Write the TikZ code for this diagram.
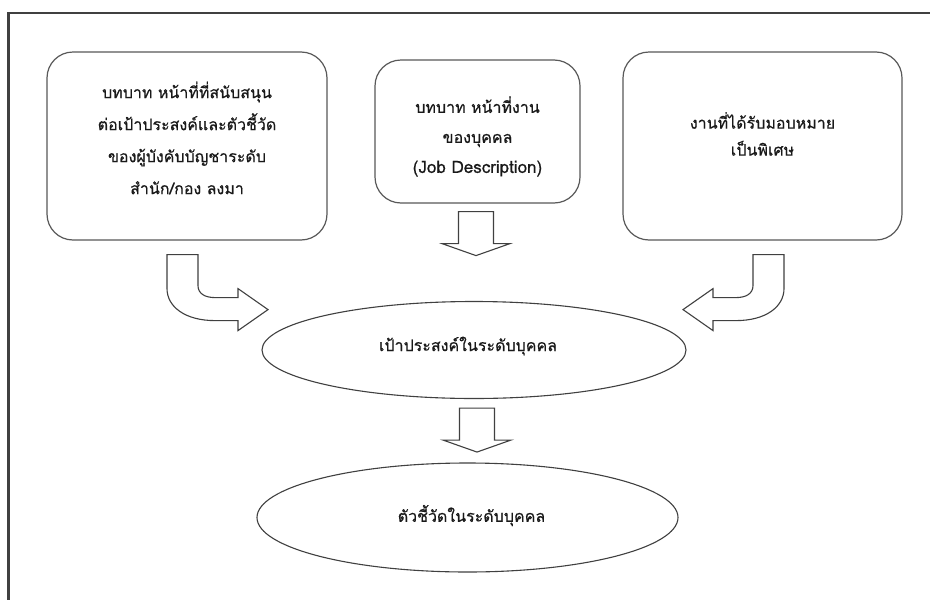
\documentclass[tikz,border=0pt]{standalone}
\usepackage{fontspec}
\newfontfamily\thaifont[Script=Thai,FakeBold=0.6]{Loma}
\usetikzlibrary{shapes.geometric,calc}

\tikzset{
  frameline/.style={draw=black!75, line width=2.2pt},
  roundbox/.style={draw=black!65, line width=1.2pt, rounded corners=26pt, inner sep=0pt},
  ovalbox/.style={draw=black!75, line width=1.1pt, ellipse, inner sep=0pt},
  blockline/.style={draw=black!75, line width=1.1pt, fill=white, line join=miter},
  caption/.style={font=\thaifont\fontsize{16}{32}\selectfont, text=black!90, align=center},
  pics/downarrow/.style={code={
    \draw[blockline] (-17.5,0) -- (17.5,0) -- (17.5,32) -- (34,32) -- (0,44)
      -- (-34,32) -- (-17.5,32) -- cycle;
  }},
  pics/bentarrow/.style={code={
    \draw[blockline] (0,0) -- (31,0) -- (31,31) .. controls (31,39) and (38,43) .. (48,43)
      -- (71,43) -- (71,34) -- (101,55) -- (71,76) -- (71,66) -- (48,66)
      .. controls (18,66) and (0,52) .. (0,34) -- cycle;
  }}
}

\begin{document}
\begin{tikzpicture}[x=1pt,y=-1pt]
  \clip (0,0) rectangle (930,600);
  \fill[white] (0,0) rectangle (930,600);

  % outer frame: only its top and left edges fall on the page
  \draw[frameline] (960,13) -- (8.5,13) -- (8.5,640);

  % source boxes
  \node[roundbox, minimum width=280pt, minimum height=188pt] (left) at (187,146) {};
  \node[roundbox, minimum width=205pt, minimum height=143pt] (mid) at (477.5,131.5) {};
  \node[roundbox, minimum width=279pt, minimum height=188pt] (right) at (762.5,146) {};

  \node[caption] (lefttext) at ($(left.center)+(0,-8)$)
    {บทบาท หน้าที่ที่สนับสนุน\\ต่อเป้าประสงค์และตัวชี้วัด\\ของผู้บังคับบัญชาระดับ\\สำนัก/กอง ลงมา};
  \node[caption, font=\thaifont\fontsize{16}{30}\selectfont] (midtext) at ($(mid.center)+(0,5)$)
    {บทบาท หน้าที่งาน\\ของบุคคล\\{\fontsize{17}{30}\selectfont(Job Description)}};
  \node[caption, font=\thaifont\fontsize{16}{27}\selectfont] (righttext) at ($(right.center)+(0,-12)$)
    {งานที่ได้รับมอบหมาย\\เป็นพิเศษ};

  % goal and indicator ovals
  \node[ovalbox, minimum width=424pt, minimum height=97pt] (goal) at (474,350) {};
  \node[caption] (goaltext) at ($(goal.center)+(-6,-4)$) {เป้าประสงค์ในระดับบุคคล};
  \node[ovalbox, minimum width=421pt, minimum height=109pt] (kpi) at (467.5,517.5) {};
  \node[caption] (kpitext) at ($(kpi.center)+(4,-2)$) {ตัวชี้วัดในระดับบุคคล};

  % block arrows
  \pic at ($(mid.south)+(-1.5,8)$) {downarrow};
  \pic at ($(goal.south)+(3,9)$) {downarrow};
  \pic at ($(left.south)+(-20,14)$) {bentarrow};
  \pic[xscale=-1] at ($(right.south)+(21.5,14)$) {bentarrow};
\end{tikzpicture}
\end{document}
